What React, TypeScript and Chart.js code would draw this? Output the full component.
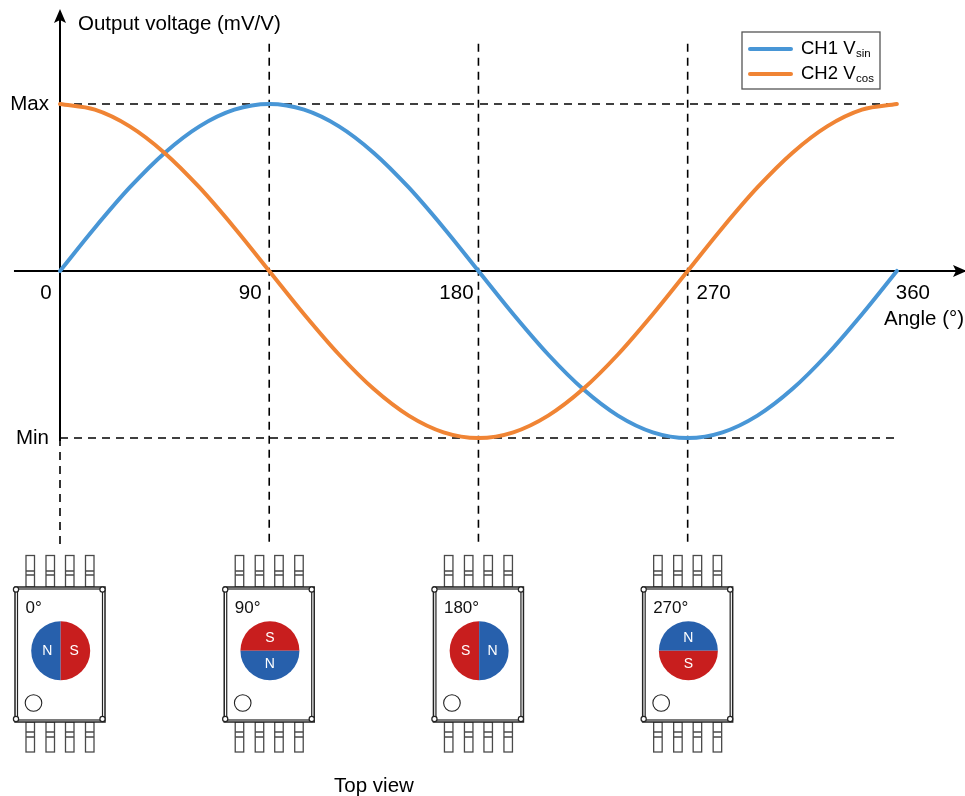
import React, { useEffect, useRef } from "react";
import { Chart, registerables } from "chart.js";

Chart.register(...registerables);

const angles = [0, 15, 30, 45, 60, 75, 90, 105, 120, 135, 150, 165, 180, 195, 210, 225, 240, 255, 270, 285, 300, 315, 330, 345, 360];
const ch1Vsin = [0, 0.259, 0.5, 0.707, 0.866, 0.966, 1, 0.966, 0.866, 0.707, 0.5, 0.259, 0, -0.259, -0.5, -0.707, -0.866, -0.966, -1, -0.966, -0.866, -0.707, -0.5, -0.259, 0];
const ch2Vcos = [1, 0.966, 0.866, 0.707, 0.5, 0.259, 0, -0.259, -0.5, -0.707, -0.866, -0.966, -1, -0.966, -0.866, -0.707, -0.5, -0.259, 0, 0.259, 0.5, 0.707, 0.866, 0.966, 1];
const xTickValues = [0, 90, 180, 270, 360];
const xTickLabels = ["0", "90", "180", "270", "360"];
const xTickShift = [-14, -19, -22, 26, 16];
const yTickValues = [-1, 1];
const yTickLabels = ["Min", "Max"];
const chipAngles = [0, 90, 180, 270];
const chipLabels = ["0°", "90°", "180°", "270°"];
const magnetTop = [
  { left: "N", right: "S" },
  { top: "S", bottom: "N" },
  { left: "S", right: "N" },
  { top: "N", bottom: "S" },
];

const SANS = '"Liberation Sans", Arial, sans-serif';
const BLUE = "#4896D6";
const ORANGE = "#F08434";
const M_BLUE = "#2760AC";
const M_RED = "#C81E1E";

function drawChip(ctx: CanvasRenderingContext2D, cx: number, label: string, m: any) {
  ctx.save();
  ctx.lineWidth = 1.3;
  ctx.strokeStyle = "#4a4a4a";
  // pins
  for (const dx of [-30, -10, 9.5, 29.5]) {
    const l = cx + dx - 4;
    const w = 8.5;
    ctx.strokeRect(l, 555.5, w, 31.5);
    ctx.beginPath();
    ctx.moveTo(l, 571);
    ctx.lineTo(l + w, 571);
    ctx.moveTo(l, 575);
    ctx.lineTo(l + w, 575);
    ctx.stroke();
    ctx.strokeRect(l, 722, w, 30);
    ctx.beginPath();
    ctx.moveTo(l, 732);
    ctx.lineTo(l + w, 732);
    ctx.moveTo(l, 737);
    ctx.lineTo(l + w, 737);
    ctx.stroke();
  }
  // body
  ctx.fillStyle = "#fff";
  ctx.strokeStyle = "#222";
  ctx.lineWidth = 1.5;
  ctx.fillRect(cx - 45, 587, 90, 135);
  ctx.strokeRect(cx - 45, 587, 90, 135);
  ctx.lineWidth = 1.2;
  ctx.strokeRect(cx - 42.5, 589, 85, 131);
  for (const [dx, y] of [[-44, 589.5], [42.5, 589.5], [-44, 719], [42.5, 719]] as number[][]) {
    ctx.beginPath();
    ctx.arc(cx + dx, y, 2.6, 0, Math.PI * 2);
    ctx.fill();
    ctx.stroke();
  }
  // angle label
  ctx.fillStyle = "#111";
  ctx.font = `17px ${SANS}`;
  ctx.textAlign = "left";
  ctx.textBaseline = "alphabetic";
  ctx.fillText(label, cx - 34.5, 612.5);
  // magnet
  const mx = cx + 0.7;
  const my = 650.7;
  const r = 29.5;
  const half = (start: number, color: string) => {
    ctx.fillStyle = color;
    ctx.beginPath();
    ctx.arc(mx, my, r, start, start + Math.PI);
    ctx.closePath();
    ctx.fill();
  };
  const col = (p: string) => (p === "N" ? M_BLUE : M_RED);
  if (m.left) {
    half(Math.PI / 2, col(m.left));
    half(-Math.PI / 2, col(m.right));
  } else {
    half(Math.PI, col(m.top));
    half(0, col(m.bottom));
  }
  ctx.fillStyle = "#fff";
  ctx.font = `14px ${SANS}`;
  ctx.textAlign = "center";
  ctx.textBaseline = "middle";
  if (m.left) {
    ctx.fillText(m.left, mx - 13.5, my + 0.5);
    ctx.fillText(m.right, mx + 13.5, my + 0.5);
  } else {
    ctx.fillText(m.top, mx, my - 13);
    ctx.fillText(m.bottom, mx, my + 13.5);
  }
  // pin-1 dot
  ctx.strokeStyle = "#222";
  ctx.lineWidth = 1.1;
  ctx.beginPath();
  ctx.arc(cx - 26.5, 703, 8.3, 0, Math.PI * 2);
  ctx.stroke();
  ctx.restore();
}

const annotations = {
  id: "annotations",
  afterDatasetsDraw(chart: any) {
    const { ctx, scales } = chart;
    const x = scales.x;
    const y = scales.y;
    ctx.save();
    // arrowheads
    ctx.fillStyle = "#000";
    const ax = x.getPixelForValue(0);
    const ay = y.getPixelForValue(0);
    ctx.clearRect(ax - 3, 0, 6, 16);
    ctx.beginPath();
    ctx.moveTo(ax, 9);
    ctx.lineTo(ax + 6, 23);
    ctx.lineTo(ax, 20);
    ctx.lineTo(ax - 6, 23);
    ctx.closePath();
    ctx.fill();
    ctx.beginPath();
    ctx.moveTo(967, ay);
    ctx.lineTo(953, ay - 6);
    ctx.lineTo(956, ay);
    ctx.lineTo(953, ay + 6);
    ctx.closePath();
    ctx.fill();

    // x tick labels
    ctx.fillStyle = "#000";
    ctx.font = `20.5px ${SANS}`;
    ctx.textBaseline = "alphabetic";
    ctx.textAlign = "center";
    xTickValues.forEach((v, i) => {
      ctx.fillText(xTickLabels[i], x.getPixelForValue(v) + xTickShift[i], 298.5);
    });
    // axis titles
    ctx.textAlign = "left";
    ctx.fillText("Output voltage (mV/V)", 78, 29.5);
    ctx.fillText("Angle (°)", 884, 325);
    ctx.textAlign = "center";
    ctx.fillText("Top view", 374, 792);

    // legend
    ctx.strokeStyle = "#555";
    ctx.lineWidth = 1.3;
    ctx.fillStyle = "#fff";
    ctx.fillRect(742, 32, 138, 57);
    ctx.strokeRect(742, 32, 138, 57);
    ctx.lineCap = "round";
    ctx.lineWidth = 4;
    const rows: [string, string, string, number][] = [
      ["CH1 V", "sin", BLUE, 49],
      ["CH2 V", "cos", ORANGE, 74],
    ];
    for (const [main, sub, color, ly] of rows) {
      ctx.strokeStyle = color;
      ctx.beginPath();
      ctx.moveTo(750, ly);
      ctx.lineTo(791, ly);
      ctx.stroke();
      ctx.fillStyle = "#000";
      ctx.textAlign = "left";
      ctx.font = `18.5px ${SANS}`;
      ctx.fillText(main, 801, ly + 5);
      const w = ctx.measureText(main).width;
      ctx.font = `11.5px ${SANS}`;
      ctx.fillText(sub, 801.5 + w, ly + 7.5);
    }
    ctx.restore();

    chipAngles.forEach((a, i) => drawChip(ctx, x.getPixelForValue(a), chipLabels[i], magnetTop[i]));
  },
};

const guide = (data: { x: number; y: number }[], dash: number[] = [8, 6], width = 1.6) => ({
  label: "guide",
  data,
  borderColor: "#000",
  borderWidth: width,
  borderDash: dash,
  pointRadius: 0,
  tension: 0,
  order: 5,
});

export default function App() {
  const ref = useRef<HTMLCanvasElement>(null);
  useEffect(() => {
    document.body.style.margin = "0";
    const chart = new Chart(ref.current!, {
      type: "line",
      data: {
        datasets: [
          guide([{ x: -19.8, y: 0 }, { x: 0, y: 0 }], [], 2),
          guide([{ x: 0, y: 1 }, { x: 360, y: 1 }]),
          guide([{ x: 0, y: -1 }, { x: 360, y: -1 }]),
          guide([{ x: 0, y: -1 }, { x: 0, y: -1.64 }]),
          guide([{ x: 90, y: 1.36 }, { x: 90, y: -1.64 }]),
          guide([{ x: 180, y: 1.36 }, { x: 180, y: -1.64 }]),
          guide([{ x: 270, y: 1.36 }, { x: 270, y: -1.64 }]),
          {
            label: "CH1 Vsin",
            data: angles.map((a, i) => ({ x: a, y: ch1Vsin[i] })),
            borderColor: BLUE,
            borderWidth: 4,
            borderCapStyle: "round",
            pointRadius: 0,
            cubicInterpolationMode: "monotone",
            order: 2,
          },
          {
            label: "CH2 Vcos",
            data: angles.map((a, i) => ({ x: a, y: ch2Vcos[i] })),
            borderColor: ORANGE,
            borderWidth: 4,
            borderCapStyle: "round",
            pointRadius: 0,
            cubicInterpolationMode: "monotone",
            order: 1,
          },
        ],
      } as any,
      options: {
        animation: false,
        responsive: false,
        clip: false as any,
        layout: { autoPadding: false, padding: { left: 0, right: 0, top: 12, bottom: 356 } },
        plugins: { legend: { display: false }, tooltip: { enabled: false }, title: { display: false } },
        scales: {
          x: {
            type: "linear",
            position: { y: 0 } as any,
            min: 0,
            max: 389.3,
            grid: { display: false },
            border: { color: "#000", width: 2 },
            ticks: { display: false },
          },
          y: {
            type: "linear",
            position: "left",
            min: -1.012,
            max: 1.531,
            grid: { display: false },
            border: { color: "#000", width: 2 },
            afterBuildTicks: (s: any) => {
              s.ticks = yTickValues.map((value) => ({ value }));
            },
            afterFit: (s: any) => {
              s.width = 60;
            },
            ticks: {
              color: "#000",
              font: { family: SANS, size: 20.5 },
              padding: 3,
              callback: (v: any) => yTickLabels[yTickValues.indexOf(v)] ?? "",
            },
          },
        },
      },
      plugins: [annotations],
    });
    return () => chart.destroy();
  }, []);
  return (
    <div style={{ position: "fixed", left: 0, top: 0, width: 965, height: 796, background: "#fff" }}>
      <canvas ref={ref} width={965} height={796} style={{ display: "block" }} />
    </div>
  );
}
